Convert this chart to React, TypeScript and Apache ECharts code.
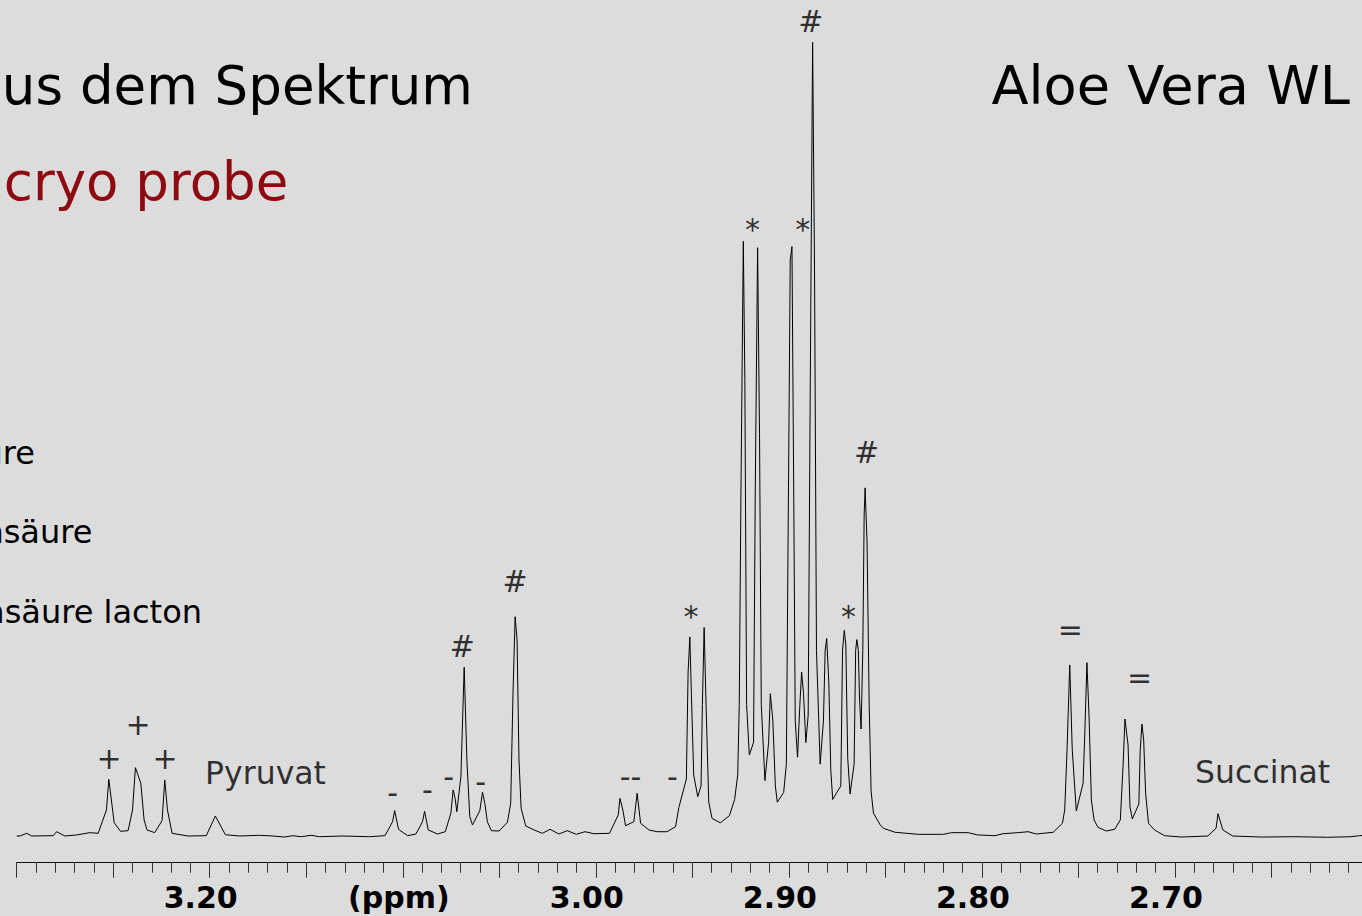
import React, { useEffect, useRef } from "react";
import * as echarts from "echarts";

// Chemical shift (ppm) and relative intensity (% of tallest peak)
const ppm = [
  3.3, 3.2983, 3.2948, 3.2922, 3.2811, 3.2793, 3.275, 3.269, 3.2621, 3.2578,
  3.2535, 3.2523, 3.2495, 3.2462, 3.2423, 3.24, 3.2385, 3.2357, 3.234, 3.2325,
  3.2285, 3.2247, 3.2233, 3.2219, 3.2195, 3.2113, 3.2018, 3.1971, 3.1919, 3.1845,
  3.1742, 3.1673, 3.1613, 3.157, 3.1526, 3.1475, 3.1432, 3.1311,
  3.1173, 3.1092, 3.1053, 3.1042, 3.1022, 3.0975, 3.0932, 3.0898, 3.0887, 3.0868,
  3.082, 3.078, 3.0751, 3.0739, 3.0729, 3.072, 3.0699, 3.0682, 3.0668, 3.0653,
  3.0639, 3.0601, 3.0587, 3.0575, 3.0562, 3.0541, 3.0501, 3.0458, 3.0441, 3.0429,
  3.0418, 3.0408, 3.0398, 3.0387, 3.0363, 3.032, 3.0277, 3.0237, 3.0191, 3.0148,
  3.0101, 3.0056, 3.001, 2.9929, 2.9884, 2.9875, 2.986, 2.9846, 2.9803, 2.9786,
  2.9768, 2.9725, 2.9683, 2.9631, 2.9587, 2.957, 2.9531, 2.9522, 2.9513, 2.9505,
  2.9493, 2.9472, 2.9455, 2.9448, 2.9439, 2.9429, 2.9415, 2.9398, 2.9355, 2.9308,
  2.9281, 2.9265, 2.9257, 2.9248, 2.9236, 2.9228, 2.9219, 2.9205, 2.9183, 2.9174,
  2.9162, 2.9152, 2.9143, 2.9124, 2.9105, 2.9096, 2.9083, 2.907, 2.906, 2.9027,
  2.9013, 2.9002, 2.8993, 2.8984, 2.8975, 2.8967, 2.8955, 2.8943, 2.8934, 2.8924,
  2.8912, 2.89, 2.8889, 2.8877, 2.8867, 2.8857, 2.8838, 2.8821, 2.8812, 2.8804,
  2.8793, 2.8783, 2.8773, 2.8731, 2.8722, 2.8713, 2.8705, 2.8695, 2.8683, 2.8662,
  2.8654, 2.8648, 2.864, 2.8634, 2.8626, 2.8617, 2.861, 2.8605, 2.8595, 2.8584,
  2.8574, 2.8562, 2.8527, 2.851, 2.845, 2.8329, 2.82, 2.8157, 2.8071, 2.8023,
  2.7933, 2.789, 2.7812, 2.7761, 2.7718, 2.7631, 2.7583, 2.7571, 2.7559, 2.7545,
  2.7532, 2.7511, 2.7476, 2.7467, 2.7456, 2.7445, 2.7433, 2.7419, 2.7399, 2.7356,
  2.7312, 2.7283, 2.7269, 2.7259, 2.7243, 2.7233, 2.7221, 2.7187, 2.718, 2.7171,
  2.7162, 2.7152, 2.7137, 2.7106, 2.7054, 2.6968, 2.683, 2.6787, 2.6777, 2.6752,
  2.6701, 2.6554, 2.6382, 2.6209, 2.6089, 2.6044, 2.6,
];

const intensity = [
  0.0, 0.0, 0.34, 0.0, 0.04, 0.54, 0.0, 0.13, 0.42, 0.34,
  3.28, 7.14, 1.68, 0.59, 0.67, 3.28, 8.61, 6.64, 2.02, 0.76,
  0.42, 1.93, 7.06, 3.28, 0.34, 0.0, 0.04, 2.52, 0.16, 0.0,
  0.09, 0.0, -0.13, 0.04, -0.09, 0.09, -0.09, 0.0,
  -0.09, 0.04, 1.8, 3.19, 0.84, 0.04, 0.25, 1.8, 3.11, 0.76,
  0.25, 0.54, 2.86, 5.8, 4.75, 3.06, 7.47, 21.26, 9.58, 2.43,
  1.39, 3.19, 5.51, 4.12, 1.8, 0.67, 0.63, 1.73, 4.12, 17.98,
  27.63, 24.7, 9.58, 3.49, 1.26, 0.76, 0.34, 0.84, 0.25, 0.67,
  0.21, 0.54, 0.29, 0.34, 2.65, 4.75, 3.28, 1.3, 1.8, 5.38,
  1.6, 0.76, 0.54, 0.54, 1.18, 3.58, 7.19, 20.66, 25.08, 17.92,
  7.69, 4.95, 6.31, 16.56, 26.26, 16.56, 4.26, 2.22, 1.66, 2.56,
  4.6, 7.69, 16.56, 43.87, 74.94, 57.53, 16.56, 10.21, 11.78, 43.87,
  74.12, 50.7, 16.56, 6.99, 11.78, 17.92, 14.5, 6.31, 4.26, 5.49,
  9.05, 43.87, 72.55, 74.26, 43.87, 14.5, 9.93, 16.56, 20.65, 17.92,
  11.78, 15.2, 57.53, 100.0, 71.19, 23.39, 9.05, 14.5, 23.39, 24.89,
  19.29, 8.37, 4.6, 6.31, 23.39, 25.91, 24.07, 9.73, 5.29, 9.05,
  23.39, 24.75, 23.39, 17.24, 13.48, 23.39, 40.46, 43.87, 37.04, 16.56,
  5.63, 2.9, 1.4, 0.97, 0.47, 0.21, 0.21, 0.42, 0.42, 0.13,
  0.04, 0.29, 0.42, 0.54, 0.25, 0.47, 1.6, 3.28, 10.84, 21.55,
  10.84, 3.15, 6.64, 12.94, 21.84, 15.03, 4.54, 2.02, 1.1, 0.63,
  0.84, 2.02, 8.73, 14.74, 11.47, 3.69, 2.14, 4.03, 10.84, 14.11,
  12.1, 5.38, 1.6, 0.76, 0.04, -0.13, 0.0, 0.97, 2.81, 0.76,
  0.0, -0.13, -0.09, -0.16, -0.09, 0.04, 0.1,
];

// Peak annotations
const annoText = [
  "+", "+", "+", "Pyruvat",
  "-", "-", "-", "#", "-", "#",
  "--", "-", "*", "*", "*", "#", "*", "#",
  "=", "=", "Succinat",
];
const annoPpm = [
  3.2521, 3.2371, 3.2232, 3.1711,
  3.1053, 3.0872, 3.0763, 3.0691, 3.0596, 3.0418,
  2.982, 2.9603, 2.9507, 2.9189, 2.8928, 2.8886, 2.8691, 2.8597,
  2.7542, 2.7183, 2.6546,
];
const annoInt = [
  9.79, 13.99, 9.79, 8.0,
  5.51, 5.88, 7.47, 23.85, 6.84, 32.04,
  7.47, 7.47, 28.5, 77.33, 77.33, 102.6, 28.5, 48.31,
  26.04, 20.0, 8.06,
];

const tickValues = [3.2, 3.1, 3.0, 2.9, 2.8, 2.7];
const tickLabels = ["3.20", "(ppm)", "3.00", "2.90", "2.80", "2.70"];

const titleLeft = "aus dem Spektrum";
const titleRight = "Aloe Vera WL";
const subtitle = "cryo probe";
const legendLines = ["Äpfelsäure", "Citronensäure", "Isocitronensäure lacton"];

const FONT = '"DejaVu Sans", Verdana, sans-serif';

export default function App() {
  const ref = useRef<HTMLDivElement>(null);

  useEffect(() => {
    const chart = echarts.init(ref.current!, null, { renderer: "svg" });
    const lineData = ppm.map((p, i) => [p, intensity[i]]);
    const annoData = annoText.map((t, i) => ({
      name: t,
      value: [annoPpm[i], annoInt[i]],
      label: {
        fontSize: t.length > 2 ? 31.5 : 30,
        offset: t === "*" ? [0, 7] : [0, 0],
      },
    }));

    const legendX = [35, 92.4, 202];
    const legendY = [452.9, 532.2, 612.2];

    chart.setOption({
      animation: false,
      backgroundColor: "#DCDCDC",
      grid: { left: 16.7, right: 0.5, top: 0, bottom: 53.3 },
      xAxis: {
        type: "value",
        inverse: true,
        min: 2.6,
        max: 3.3,
        interval: 0.05,
        axisLine: { show: true, onZero: false, lineStyle: { color: "#111", width: 1.2 } },
        axisTick: { show: true, length: 15, lineStyle: { color: "#333", width: 1 } },
        minorTick: { show: true, splitNumber: 5, length: 10, lineStyle: { color: "#333", width: 1 } },
        splitLine: { show: false },
        minorSplitLine: { show: false },
        axisLabel: {
          margin: 20,
          fontSize: 30,
          fontFamily: FONT,
          fontWeight: "bold",
          color: "#000",
          formatter: (v: number) => {
            const i = tickValues.findIndex((t) => Math.abs(t - v) < 1e-6);
            if (i < 0) return "";
            return tickLabels[i].startsWith("(") ? `{p|${tickLabels[i]}}` : `{n|${tickLabels[i]}}`;
          },
          rich: {
            n: { fontFamily: FONT, fontWeight: "bold", fontSize: 30, color: "#000", padding: [0, 18, 0, 0] },
            p: { fontFamily: FONT, fontWeight: "bold", fontSize: 30, color: "#000", padding: [0, 8, 0, 0] },
          },
        },
      },
      yAxis: { type: "value", min: -3.364, max: 105.33, show: false },
      series: [
        {
          type: "line",
          data: lineData,
          symbol: "none",
          showSymbol: false,
          silent: true,
          lineStyle: { color: "#000", width: 1 },
        },
        {
          type: "scatter",
          data: annoData,
          symbolSize: 1,
          silent: true,
          itemStyle: { color: "rgba(0,0,0,0)" },
          label: {
            show: true,
            position: "inside",
            formatter: "{b}",
            fontFamily: FONT,
            color: "#000",
          },
        },
      ],
      graphic: [
        {
          type: "text",
          x: 473,
          y: 85,
          style: { text: titleLeft, fill: "#000", fontSize: 53, fontFamily: FONT, align: "right", verticalAlign: "middle" },
        },
        {
          type: "text",
          x: 991.5,
          y: 85,
          style: { text: titleRight, fill: "#000", fontSize: 54.2, fontFamily: FONT, align: "left", verticalAlign: "middle" },
        },
        {
          type: "text",
          x: 3.8,
          y: 181,
          style: { text: subtitle, fill: "#8C0A10", fontSize: 53, fontFamily: FONT, align: "left", verticalAlign: "middle" },
        },
        ...legendLines.map((t, i) => ({
          type: "text",
          x: legendX[i],
          y: legendY[i],
          style: { text: t, fill: "#000", fontSize: 32, fontFamily: FONT, align: "right", verticalAlign: "middle" },
        })),
      ],
    });
    return () => chart.dispose();
  }, []);

  return (
    <div
      style={{ position: "fixed", left: 0, top: 0, width: 1362, height: 916, overflow: "hidden", background: "#DCDCDC" }}
    >
      <div ref={ref} style={{ width: 1371, height: 916 }} />
    </div>
  );
}
